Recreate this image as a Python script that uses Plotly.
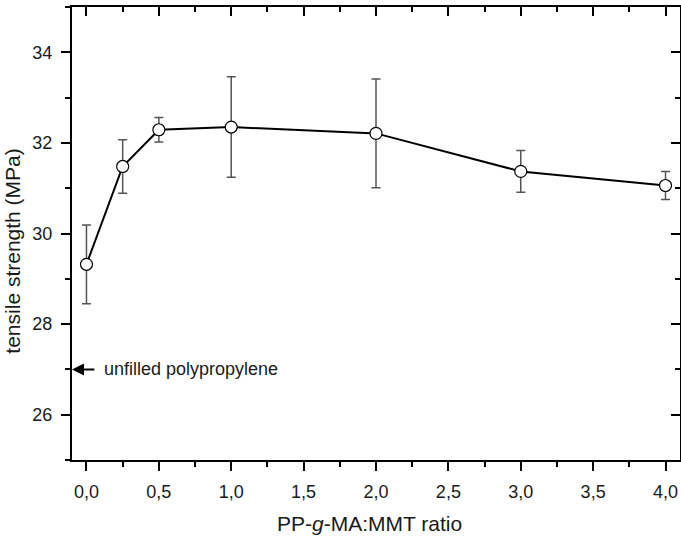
import plotly.graph_objects as go

# PP-g-MA:MMT ratio and measured tensile strength (MPa) with standard deviation
ratio = [0.0, 0.25, 0.5, 1.0, 2.0, 3.0, 4.0]
strength = [29.32, 31.48, 32.29, 32.35, 32.21, 31.37, 31.06]
strength_sd = [0.87, 0.59, 0.27, 1.11, 1.20, 0.46, 0.31]

# reference level of the neat polymer
unfilled_pp_strength = 27.0
unfilled_label = "unfilled polypropylene"

x_title = "PP-<i>g</i>-MA:MMT ratio"
y_title = "tensile strength (MPa)"

x_range = [-0.1, 4.1]
y_range = [25, 35]

FONT = "Liberation Sans, Arial, sans-serif"

fig = go.Figure()

fig.add_trace(go.Scatter(
    x=ratio, y=strength,
    mode="lines+markers",
    line=dict(color="black", width=2),
    marker=dict(size=12, color="white", line=dict(color="black", width=1.2)),
    error_y=dict(type="data", array=strength_sd, visible=True,
                 color="#555555", thickness=1.5, width=4.5),
    showlegend=False,
))

# invisible trace so the mirrored top/right axes are drawn
fig.add_trace(go.Scatter(x=[None], y=[None], xaxis="x2", yaxis="y2",
                         showlegend=False, hoverinfo="skip"))

tick_common = dict(ticks="outside", ticklen=9, tickwidth=2, tickcolor="black",
                   showline=True, linecolor="black", linewidth=2,
                   showgrid=False, zeroline=False)

fig.update_layout(
    width=681, height=538,
    margin=dict(l=72, r=1, t=7, b=78),
    paper_bgcolor="white", plot_bgcolor="white",
    separators=", ",
    font=dict(family=FONT, size=18, color="#1a1a1a"),
    xaxis=dict(range=x_range, dtick=0.5, tick0=0, tickformat=".1f",
               minor=dict(ticks="outside", ticklen=5, tickwidth=2, dtick=0.25,
                          tick0=0, tickcolor="black"),
               ticklabelstandoff=5,
               **tick_common),
    yaxis=dict(range=y_range, dtick=2, tick0=0,
               minor=dict(ticks="outside", ticklen=5, tickwidth=2, dtick=1,
                          tick0=0, tickcolor="black"),
               ticklabelstandoff=5,
               **tick_common),
    xaxis2=dict(range=x_range, overlaying="x", side="top", matches="x",
                dtick=0.5, tick0=0, ticks="inside", ticklen=9, tickwidth=2,
                tickcolor="black", showticklabels=False, showline=True,
                linecolor="black", linewidth=2, showgrid=False, zeroline=False,
                minor=dict(ticks="inside", ticklen=5, tickwidth=2, dtick=0.25,
                           tick0=0, tickcolor="black")),
    yaxis2=dict(range=y_range, overlaying="y", side="right", matches="y",
                dtick=2, tick0=0, ticks="inside", ticklen=9, tickwidth=2,
                tickcolor="black", showticklabels=False, showline=True,
                linecolor="black", linewidth=2, showgrid=False, zeroline=False,
                minor=dict(ticks="inside", ticklen=5, tickwidth=2, dtick=1,
                           tick0=0, tickcolor="black")),
)

# axis titles, placed as paper-anchored text
fig.add_annotation(x=0.49, y=-0.141, xref="paper", yref="paper",
                   xanchor="center", yanchor="middle",
                   text=x_title, showarrow=False, font=dict(size=21))
fig.add_annotation(x=-0.097, y=0.46, xref="paper", yref="paper",
                   xanchor="center", yanchor="middle", textangle=-90,
                   text=y_title, showarrow=False, font=dict(size=21))

# arrow pointing to the neat-polymer level on the y axis
fig.add_annotation(x=x_range[0], y=unfilled_pp_strength, xref="x", yref="y",
                   ax=0.065, ay=unfilled_pp_strength, axref="x", ayref="y",
                   text="", showarrow=True, arrowhead=2, arrowsize=1.2,
                   arrowwidth=2, arrowcolor="black")
fig.add_annotation(x=0.11, y=unfilled_pp_strength, xref="x", yref="y",
                   text=unfilled_label, showarrow=False, xanchor="left",
                   yanchor="middle", font=dict(size=18, family=FONT))

fig.write_html("out.html")
